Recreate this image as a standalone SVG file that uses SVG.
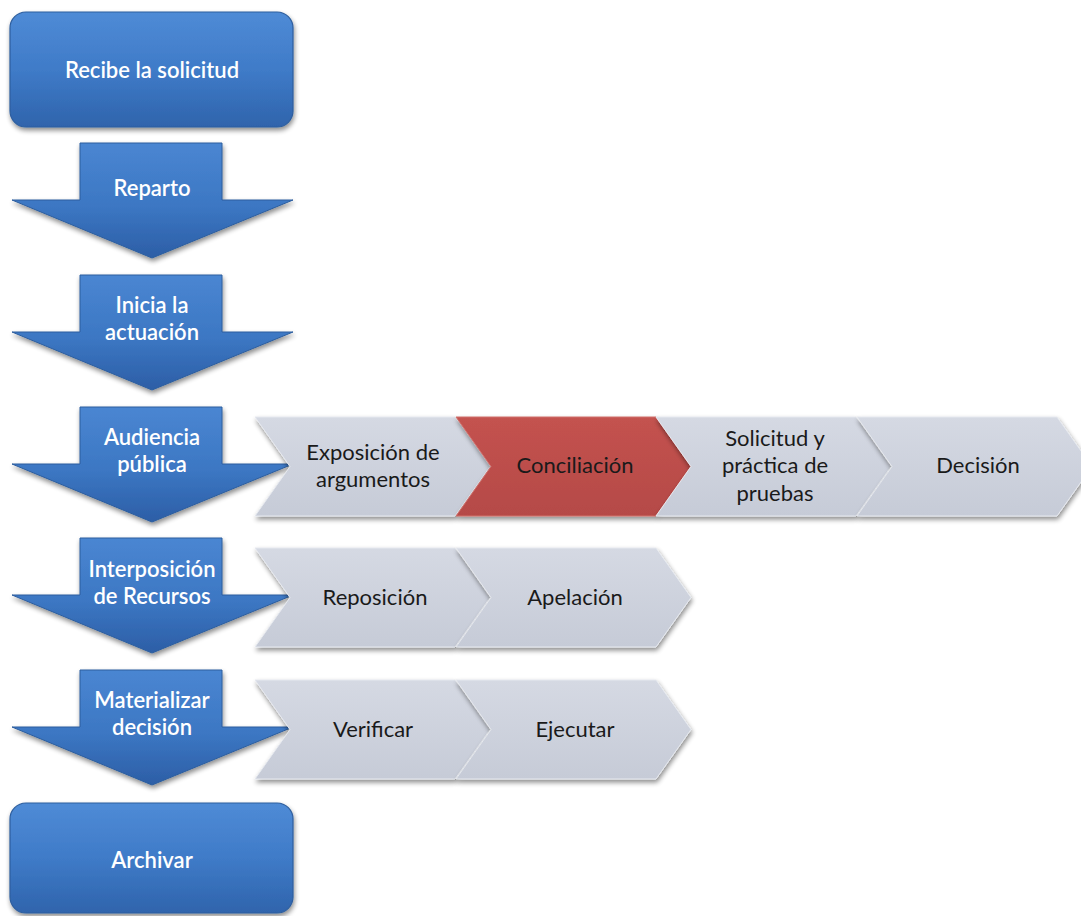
<svg xmlns="http://www.w3.org/2000/svg" width="1081" height="916" viewBox="0 0 1081 916">
<defs>
<linearGradient id="gBlue" x1="0" y1="0" x2="0" y2="1">
<stop offset="0" stop-color="#4f8bd6"/>
<stop offset="0.5" stop-color="#3f7bc8"/>
<stop offset="1" stop-color="#2f64ac"/>
</linearGradient>
<linearGradient id="gArrow" x1="0" y1="0" x2="0" y2="1">
<stop offset="0" stop-color="#4a86d2"/>
<stop offset="0.55" stop-color="#3c77c3"/>
<stop offset="1" stop-color="#2c5ea6"/>
</linearGradient>
<linearGradient id="gGray" x1="0" y1="0" x2="0" y2="1">
<stop offset="0" stop-color="#d5d9e3"/>
<stop offset="1" stop-color="#c6cbd7"/>
</linearGradient>
<linearGradient id="gRed" x1="0" y1="0" x2="0" y2="1">
<stop offset="0" stop-color="#c4524f"/>
<stop offset="1" stop-color="#b54a47"/>
</linearGradient>
<filter id="sh" x="-10%" y="-10%" width="125%" height="130%">
<feGaussianBlur in="SourceAlpha" stdDeviation="2.5"/>
<feOffset dx="1" dy="3" result="b"/>
<feComponentTransfer><feFuncA type="linear" slope="0.45"/></feComponentTransfer>
<feMerge><feMergeNode/><feMergeNode in="SourceGraphic"/></feMerge>
</filter>
<path id="down" d="M80,0 L222,0 L222,57 L293,57 L152,115 L12,57 L80,57 Z"/>
<path id="chev" d="M0,0 L200,0 L235,49.5 L200,99 L0,99 L35,49.5 Z"/>
</defs>
<style>
.box{fill:url(#gBlue);stroke:#2d5e9e;stroke-width:1.2;filter:url(#sh)}
.arr{fill:url(#gArrow);stroke:#2d5e9e;stroke-width:1;filter:url(#sh)}
.ch{fill:url(#gGray);stroke:#e6e9ef;stroke-width:1;filter:url(#sh)}
.chr{fill:url(#gRed);stroke:#d0706d;stroke-width:1;filter:url(#sh)}
.wt{font-family:Lato,"Open Sans","Liberation Sans",sans-serif;font-size:22px;font-weight:600;fill:#ffffff;text-anchor:middle}
.dt{font-family:Lato,"Open Sans","Liberation Sans",sans-serif;font-size:22px;fill:#1a1a1a;text-anchor:middle}
</style>
<rect width="1081" height="916" fill="#ffffff"/>
<g id="connectors"></g>
<g id="n-recibe">
<rect class="box" x="10" y="12" width="283" height="115" rx="16"/>
<text class="wt" x="152" y="78">Recibe la solicitud</text>
</g>
<g id="n-reparto">
<use href="#down" class="arr" x="0" y="143"/>
<text class="wt" x="152" y="196">Reparto</text>
</g>
<g id="n-inicia">
<use href="#down" class="arr" x="0" y="275"/>
<text class="wt" x="152" y="313">Inicia la</text>
<text class="wt" x="152" y="340">actuación</text>
</g>
<g id="n-audiencia">
<use href="#down" class="arr" x="0" y="407"/>
<text class="wt" x="152" y="445">Audiencia</text>
<text class="wt" x="152" y="472">pública</text>
</g>
<g id="n-interposicion">
<use href="#down" class="arr" x="0" y="538"/>
<text class="wt" x="152" y="577">Interposición</text>
<text class="wt" x="152" y="604">de Recursos</text>
</g>
<g id="n-materializar">
<use href="#down" class="arr" x="0" y="670"/>
<text class="wt" x="152" y="708">Materializar</text>
<text class="wt" x="152" y="735">decisión</text>
</g>
<g id="n-archivar">
<rect class="box" x="10" y="803" width="283" height="110" rx="16"/>
<text class="wt" x="152" y="868">Archivar</text>
</g>
<g id="n-exposicion">
<use href="#chev" class="ch" x="255" y="417"/>
<text class="dt" x="373" y="460">Exposición de</text>
<text class="dt" x="373" y="487">argumentos</text>
</g>
<g id="n-conciliacion">
<use href="#chev" class="chr" x="456" y="417"/>
<text class="dt" x="575" y="473">Conciliación</text>
</g>
<g id="n-solicitud">
<use href="#chev" class="ch" x="656" y="417"/>
<text class="dt" x="775" y="446">Solicitud y</text>
<text class="dt" x="775" y="473">práctica de</text>
<text class="dt" x="775" y="501">pruebas</text>
</g>
<g id="n-decision">
<use href="#chev" class="ch" x="857" y="417"/>
<text class="dt" x="978" y="473">Decisión</text>
</g>
<g id="n-reposicion">
<use href="#chev" class="ch" x="255" y="548"/>
<text class="dt" x="375" y="605">Reposición</text>
</g>
<g id="n-apelacion">
<use href="#chev" class="ch" x="456" y="548"/>
<text class="dt" x="575" y="605">Apelación</text>
</g>
<g id="n-verificar">
<use href="#chev" class="ch" x="255" y="680"/>
<text class="dt" x="373" y="737">Verificar</text>
</g>
<g id="n-ejecutar">
<use href="#chev" class="ch" x="456" y="680"/>
<text class="dt" x="575" y="737">Ejecutar</text>
</g>
</svg>
